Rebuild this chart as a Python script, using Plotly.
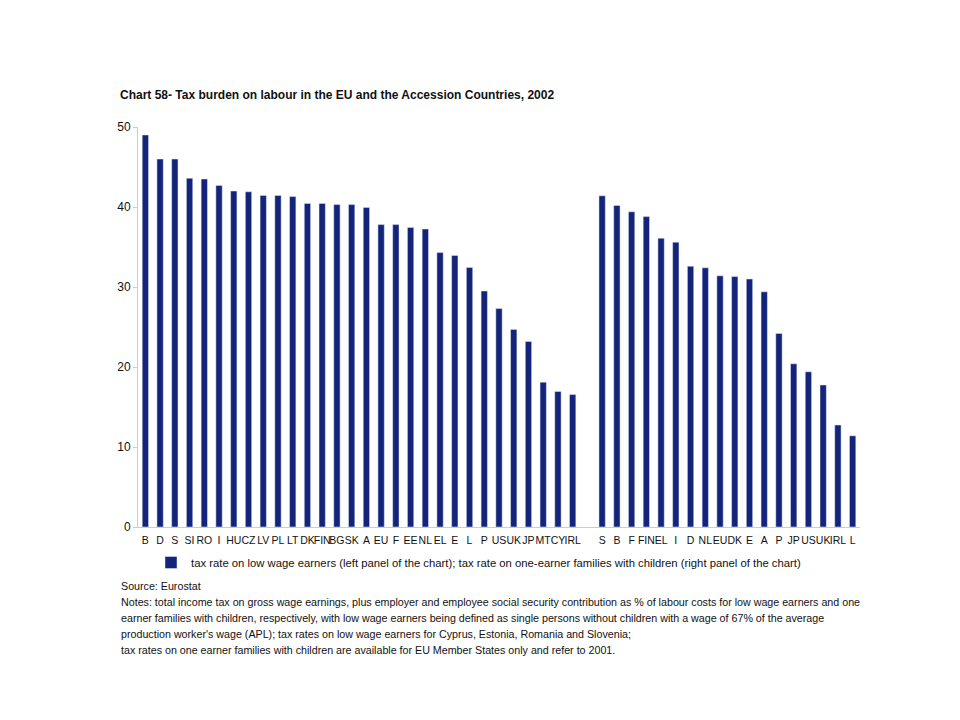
import plotly.graph_objects as go

left_labels = ["B", "D", "S", "SI", "RO", "I", "HU", "CZ", "LV", "PL", "LT", "DK", "FIN", "BG", "SK",
               "A", "EU", "F", "EE", "NL", "EL", "E", "L", "P", "US", "UK", "JP", "MT", "CY", "IRL"]
left_values = [49.0, 46.0, 46.0, 43.6, 43.5, 42.7, 42.0, 41.9, 41.45, 41.45, 41.3, 40.45, 40.45, 40.3, 40.3,
               39.95, 37.8, 37.8, 37.45, 37.25, 34.3, 33.95, 32.45, 29.5, 27.3, 24.7, 23.2, 18.1, 16.95, 16.55]

right_labels = ["S", "B", "F", "FIN", "EL", "I", "D", "NL", "EU", "DK", "E", "A", "P", "JP", "US", "UK", "IRL", "L"]
right_values = [41.4, 40.2, 39.4, 38.8, 36.1, 35.6, 32.6, 32.4, 31.4, 31.3, 31.0, 29.4, 24.2, 20.4, 19.4, 17.75, 12.75, 11.4]

y_ticks = [0, 10, 20, 30, 40, 50]

title_text = "Chart 58- Tax burden on labour in the EU and the Accession Countries, 2002"
legend_text = ("tax rate on low wage earners (left panel of the chart); "
               "tax rate on one-earner families with children (right panel of the chart)")
note_lines = [
    "Source: Eurostat",
    "Notes: total income tax on gross wage earnings, plus employer and employee social security contribution as % of labour costs for low wage earners and one",
    "earner families with children, respectively, with low wage earners being defined as single persons without children with a wage of 67% of the average",
    "production worker's wage (APL); tax rates on low wage earners for Cyprus, Estonia, Romania and Slovenia;",
    "tax rates on one earner families with children are available for EU Member States only and refer to 2001.",
]

BAR = "#13247A"
GAP = 1  # one empty slot between the two panels

left_x = list(range(len(left_labels)))
right_x = [len(left_labels) + GAP + i for i in range(len(right_labels))]
n_slots = len(left_labels) + GAP + len(right_labels)

fig = go.Figure()
fig.add_trace(go.Bar(x=left_x, y=left_values, marker_color=BAR, width=0.43,
                     name=legend_text, showlegend=True))
fig.add_trace(go.Bar(x=right_x, y=right_values, marker_color=BAR, width=0.43,
                     name=legend_text, showlegend=False))

FONT = "Liberation Sans, Arial, sans-serif"

# the page has an 8px body offset; plot area in figure px: left 130, top 119, right 852, bottom 519
PL, PT, PR, PB = 130, 119, 852, 519
PW, PH = PR - PL, PB - PT

def px(x):
    return (x - PL) / PW

def py(y):
    return (PB - y) / PH

fig.update_layout(
    width=960, height=720,
    paper_bgcolor="white", plot_bgcolor="white",
    margin=dict(l=PL, r=960 - PR, t=PT, b=720 - PB),
    font=dict(family=FONT, color="#111111"),
    title=dict(text="<b>" + title_text + "</b>", xref="container", yref="container",
               x=112 / 960, xanchor="left", y=1 - 87 / 720, yanchor="middle",
               font=dict(size=12, family=FONT, color="#111111")),
    showlegend=True,
    legend=dict(orientation="h", x=px(143), xanchor="left",
                y=py(540), yanchor="top",
                font=dict(size=11.3, family=FONT, color="#111111"),
                itemwidth=30, tracegroupgap=0, bgcolor="rgba(0,0,0,0)"),
)

fig.update_xaxes(
    range=[-0.5, n_slots - 0.5],
    tickmode="array",
    tickvals=left_x + right_x,
    ticktext=left_labels + right_labels,
    tickfont=dict(size=10.5, family=FONT, color="#111111"),
    ticklabelstandoff=3,
    showline=True, linecolor="#cccccc", linewidth=1,
    showgrid=False, zeroline=False, ticks="", tickangle=0,
)
fig.update_yaxes(
    range=[0, 50],
    tickmode="array", tickvals=y_ticks,
    tickfont=dict(size=12, family=FONT, color="#111111"),
    showline=True, linecolor="#cccccc", linewidth=1,
    ticks="outside", tickcolor="#cccccc", ticklen=4,
    showgrid=False, zeroline=False,
)

note_y = [578, 594, 610, 626, 642]
for line, yy in zip(note_lines, note_y):
    fig.add_annotation(text=line, xref="paper", yref="paper",
                       x=px(111), xanchor="left",
                       y=py(yy), yanchor="middle",
                       showarrow=False, align="left",
                       font=dict(size=10.7, family=FONT, color="#111111"))

fig.write_html("out.html")
